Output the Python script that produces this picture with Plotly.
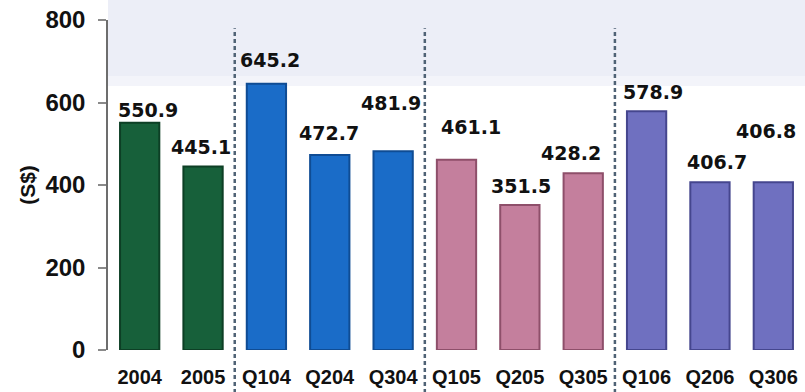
import plotly.graph_objects as go

# Periods and average values (S$)
periods = ["2004", "2005", "Q104", "Q204", "Q304", "Q105", "Q205", "Q305", "Q106", "Q206", "Q306"]
values = [550.9, 445.1, 645.2, 472.7, 481.9, 461.1, 351.5, 428.2, 578.9, 406.7, 406.8]
value_text = ["550.9", "445.1", "645.2", "472.7", "481.9", "461.1", "351.5", "428.2", "578.9", "406.7", "406.8"]
y_ticks = [0, 200, 400, 600, 800]

# Colour groups: annual, 2004 quarters, 2005 quarters, 2006 quarters
fill_colors = ["#17603a"] * 2 + ["#1a6cc8"] * 3 + ["#c47f9d"] * 3 + ["#6f70c0"] * 3
edge_colors = ["#0d3f25"] * 2 + ["#0f4c94"] * 3 + ["#8e4f6a"] * 3 + ["#45468e"] * 3

# Pixel offsets of the value labels (x shift, height above bar top)
label_dx = [8, -2, 4, -1, -2, 14, 1, -12, 6, 7, -7]
label_dy = [13, 19, 24, 22, 48, 33, 19, 20, 19, 20, 51]

# Group boundaries drawn as dashed separators
separators = [1.5, 4.5, 7.5]

fig = go.Figure()
fig.add_trace(go.Bar(
    x=list(range(len(periods))),
    y=values,
    marker=dict(color=fill_colors, line=dict(color=edge_colors, width=2)),
    hoverinfo="skip",
))

for i, (v, t) in enumerate(zip(values, value_text)):
    fig.add_annotation(
        x=i, y=v, text=t, showarrow=False,
        xanchor="center", yanchor="middle",
        xshift=label_dx[i], yshift=label_dy[i],
        font=dict(family="DejaVu Sans", size=19, color="#111111", weight="bold"),
    )

for s in separators:
    fig.add_shape(
        type="line", xref="x", yref="paper",
        x0=s, x1=s, y0=-0.13, y1=0.975,
        line=dict(color="#4f6275", width=2.5, dash="4px,3px"),
        layer="above",
    )

# Pale sky band behind the top of the chart
for y0, y1, col in [(0.83, 1.07, "#eceef7"), (0.80, 0.83, "#f3f4fa")]:
    fig.add_shape(
        type="rect", xref="paper", yref="paper",
        x0=0.0, x1=1.0, y0=y0, y1=y1,
        fillcolor=col, line=dict(width=0), layer="below",
    )

fig.update_layout(
    width=805, height=392,
    margin=dict(l=108, r=0, t=20, b=42),
    paper_bgcolor="#ffffff",
    plot_bgcolor="rgba(0,0,0,0)",
    bargap=0.38,
    showlegend=False,
    xaxis=dict(
        range=[-0.5, 10.5],
        tickmode="array",
        tickvals=list(range(len(periods))),
        ticktext=periods,
        showgrid=False, zeroline=False, showline=False,
        ticks="", ticklabelstandoff=13,
        tickfont=dict(family="Liberation Sans", size=20, color="#111111", weight="bold"),
    ),
    yaxis=dict(
        range=[0, 800],
        tickvals=y_ticks,
        showgrid=False, zeroline=False,
        showline=True, linecolor="#6d6d6d", linewidth=1.5,
        ticks="outside", ticklen=8, tickcolor="#8a8a8a", tickwidth=1.5,
        ticklabelstandoff=8,
        tickfont=dict(family="Liberation Sans", size=24, color="#111111", weight="bold"),
        title=dict(
            text="(S$)", standoff=4,
            font=dict(family="Liberation Sans", size=21, color="#111111", weight="bold"),
        ),
    ),
)

fig.write_html("out.html")
